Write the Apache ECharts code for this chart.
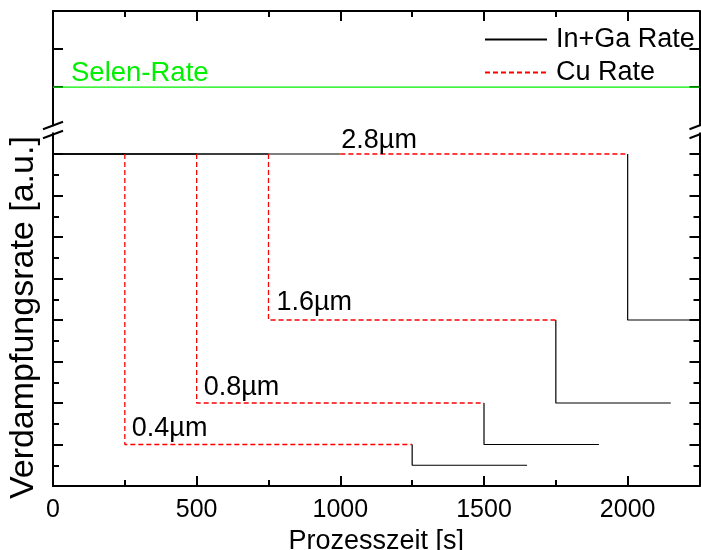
<!DOCTYPE html>
<html>
<head>
<meta charset="utf-8">
<script src="https://cdn.jsdelivr.net/npm/echarts@6/dist/echarts.min.js"></script>
<style>
  html, body { margin: 0; padding: 0; background: #fff; }
  #chart { width: 701px; height: 550px; }
</style>
</head>
<body>
<div id="chart"></div>
<script>
// Deposition variants: each run = In+Ga stage, Cu stage, final In+Ga stage
const thicknessLabels = ['0.4µm', '0.8µm', '1.6µm', '2.8µm'];
const cuStart = [250, 500, 750, 1000];
const cuEnd = [1250, 1500, 1750, 2000];
const cuRate = [2, 4, 8, 16];
const inGaFirstRate = 16;
const inGaLastRate = [1, 2, 4, 8];
const inGaLastEnd = [1650, 1900, 2150, 2250];
const seleniumRate = 1;
const timeRange = [0, 2250];

// Tick positions
const xMajorTicks = [0, 500, 1000, 1500, 2000];
const xMinorTicks = [250, 750, 1250, 1750];
const yMajorTicks = [0, 2, 4, 6, 8, 10, 12, 14, 16];
const yMinorTicks = [1, 3, 5, 7, 9, 11, 13, 15];
const yUpperTicks = [1, 2];
const upperRange = [0, 3];
const lowerRange = [0, 17];

// Layout (pixels)
const PLOT_LEFT = 53;
const PLOT_RIGHT = 699.5;
const PLOT_TOP = 11;
const UPPER_BOTTOM = 125.3;
const LOWER_TOP = 133.25;
const PLOT_BOTTOM = 486;
const W = 701, H = 550;

const FONT = '"Liberation Sans", Arial, Helvetica, sans-serif';
const BLACK = '#000000';
const RED = '#ff0000';
const GREEN = '#00f000';

const chart = echarts.init(document.getElementById('chart'), null, { renderer: 'canvas' });

function xAxisDef(gridIndex, position, ticks, tickLen, extra) {
  return Object.assign({
    type: 'value', gridIndex: gridIndex, position: position,
    min: timeRange[0], max: timeRange[1],
    axisLine: { show: false, onZero: false },
    axisTick: { show: true, inside: true, length: tickLen, customValues: ticks,
                lineStyle: { color: BLACK, width: 2 } },
    axisLabel: { show: false },
    splitLine: { show: false }
  }, extra || {});
}
function yAxisDef(gridIndex, position, range, ticks, tickLen, extra) {
  return Object.assign({
    type: 'value', gridIndex: gridIndex, position: position,
    min: range[0], max: range[1],
    axisLine: { show: false, onZero: false },
    axisTick: { show: true, inside: true, length: tickLen, customValues: ticks,
                lineStyle: { color: BLACK, width: 2 } },
    axisLabel: { show: false },
    splitLine: { show: false }
  }, extra || {});
}
const frameLine = { show: true, onZero: false, lineStyle: { color: BLACK, width: 2 } };

const xAxes = [
  // upper panel: top frame
  xAxisDef(0, 'top', xMajorTicks, 10, { axisLine: frameLine }),
  xAxisDef(0, 'top', xMinorTicks, 6),
  // lower panel: bottom frame with labels
  xAxisDef(1, 'bottom', xMajorTicks, 10, {
    axisLine: frameLine,
    axisLabel: { show: true, customValues: xMajorTicks, color: BLACK,
                 fontFamily: FONT, fontSize: 25, margin: 12,
                 formatter: function (v) { return String(v); } },
    name: 'Prozesszeit [s]', nameLocation: 'middle', nameGap: 41,
    nameTextStyle: { color: BLACK, fontFamily: FONT, fontSize: 27 }
  }),
  xAxisDef(1, 'bottom', xMinorTicks, 6)
];

const yAxes = [
  // upper panel (Se)
  yAxisDef(0, 'left', upperRange, yUpperTicks, 10, { axisLine: frameLine }),
  yAxisDef(0, 'right', upperRange, yUpperTicks, 10, { axisLine: frameLine }),
  // lower panel (metal rates)
  yAxisDef(1, 'left', lowerRange, yMajorTicks, 10, {
    axisLine: frameLine,
    name: 'Verdampfungsrate [a.u.]', nameLocation: 'middle', nameGap: 12,
    nameTextStyle: { color: BLACK, fontFamily: FONT, fontSize: 34, padding: [0, 16, 0, 0] }
  }),
  yAxisDef(1, 'left', lowerRange, yMinorTicks, 6),
  yAxisDef(1, 'right', lowerRange, yMajorTicks, 10, { axisLine: frameLine }),
  yAxisDef(1, 'right', lowerRange, yMinorTicks, 6)
];

const series = [];
const solid = { color: BLACK, width: 1.2, type: 'solid' };
const dashed = { color: RED, width: 1.3, type: [5, 3] };

function stepLine(name, style, z, points) {
  return {
    name: name, type: 'line', xAxisIndex: 2, yAxisIndex: 2,
    symbol: 'none', lineStyle: style,
    itemStyle: { color: style.color }, z: z, data: points
  };
}

thicknessLabels.forEach(function (lbl, i) {
  series.push(stepLine('In+Ga Rate', solid, 3,
    [[timeRange[0], inGaFirstRate], [cuStart[i], inGaFirstRate]]));
});
thicknessLabels.forEach(function (lbl, i) {
  series.push(stepLine('In+Ga Rate', solid, 3,
    [[cuEnd[i], cuRate[i]], [cuEnd[i], inGaLastRate[i]], [inGaLastEnd[i], inGaLastRate[i]]]));
});
thicknessLabels.forEach(function (lbl, i) {
  series.push(stepLine('Cu Rate', dashed, 4,
    [[cuStart[i], inGaFirstRate], [cuStart[i], cuRate[i]], [cuEnd[i], cuRate[i]]]));
});

// Selenium rate (upper panel)
series.push({
  name: 'Selen-Rate', type: 'line', xAxisIndex: 0, yAxisIndex: 0,
  symbol: 'none',
  lineStyle: { color: GREEN, width: 1.2 }, itemStyle: { color: GREEN },
  data: [[timeRange[0], seleniumRate], [timeRange[1], seleniumRate]]
});

// Text annotations anchored at data points
const labelOffsets = [[7, -2], [7, -2], [8, -4], [1, 0]];
series.push({
  type: 'scatter', xAxisIndex: 2, yAxisIndex: 2, symbolSize: 0, silent: true, z: 6,
  itemStyle: { opacity: 1 },
  data: thicknessLabels.map(function (lbl, i) {
    return {
      value: [cuStart[i], cuRate[i]], name: lbl,
      label: { show: true, formatter: lbl, position: labelOffsets[i],
               align: 'left', verticalAlign: 'bottom',
               color: BLACK, fontFamily: FONT, fontSize: 27, lineHeight: 27 }
    };
  })
});
series.push({
  type: 'scatter', xAxisIndex: 0, yAxisIndex: 0, symbolSize: 0, silent: true, z: 6,
  itemStyle: { opacity: 1 },
  data: [{
    value: [timeRange[0], seleniumRate], name: 'Selen-Rate',
    label: { show: true, formatter: 'Selen-Rate', position: [18, 0],
             align: 'left', verticalAlign: 'bottom',
             color: GREEN, fontFamily: FONT, fontSize: 27.5, lineHeight: 27 }
  }]
});

// Axis-break marks on both vertical frame lines
function breakMarks(x) {
  const ys = [125.5, 134.5];
  return ys.map(function (y) {
    return {
      type: 'line', z: 100,
      shape: { x1: x - 10, y1: y + 3.8, x2: x + 10, y2: y - 3.8 },
      style: { stroke: BLACK, lineWidth: 2 }
    };
  });
}

chart.setOption({
  backgroundColor: '#ffffff',
  animation: false,
  textStyle: { fontFamily: FONT },
  grid: [
    { left: PLOT_LEFT, right: W - PLOT_RIGHT, top: PLOT_TOP, bottom: H - UPPER_BOTTOM,
      outerBoundsMode: 'none', containLabel: false },
    { left: PLOT_LEFT, right: W - PLOT_RIGHT, top: LOWER_TOP, bottom: H - PLOT_BOTTOM,
      outerBoundsMode: 'none', containLabel: false }
  ],
  xAxis: xAxes,
  yAxis: yAxes,
  legend: {
    data: ['In+Ga Rate', 'Cu Rate'],
    orient: 'vertical', left: 484, top: 26, padding: 0,
    itemWidth: 62, itemHeight: 14, itemGap: 6,
    itemStyle: { opacity: 0, borderWidth: 0 },
    textStyle: { color: BLACK, fontFamily: FONT, fontSize: 27, lineHeight: 27, padding: [0, 0, 0, 4] },
    selectedMode: false
  },
  graphic: breakMarks(PLOT_LEFT).concat(breakMarks(PLOT_RIGHT)),
  series: series
});
</script>
</body>
</html>
